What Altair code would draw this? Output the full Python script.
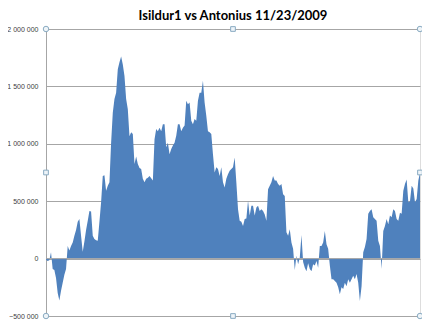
import altair as alt
import pandas as pd

title_text = "Isildur1 vs Antonius 11/23/2009"
y_ticks = [-500000, 0, 500000, 1000000, 1500000, 2000000]

# chip count (thousands), left to right
seg_a = [-10, -20, -15, 55, -90, -100, -170, -300, -365, -280, -210, -140, -90, 110, 70, 110,
         140, 200, 250, 320, 345, 200, 60, 150, 250, 330, 415, 410, 200, 170, 160, 155]
seg_b = [320, 490, 720, 725, 590, 635, 665, 1010, 1270, 1390, 1445, 1650, 1710, 1760, 1690, 1590,
         1390, 1300, 1065, 1100, 1085, 825, 890, 825, 790, 780, 695, 665, 695, 705, 720, 700, 680]
seg_c = [1040, 1130, 1110, 1140, 1110, 1170, 1170, 970, 1010, 910, 955, 985, 1010, 1070, 1170,
         1170, 1110, 1140, 1160, 1375, 1345, 1360, 1200, 1170, 1215, 1200, 1375, 1445]
seg_d = [1445, 1550, 1360, 1245, 1110, 1100, 1085, 910, 750, 795, 780, 720, 795, 665, 620, 695,
         735, 765, 780, 795, 880, 665, 430, 330, 320, 285, 345, 350, 505, 375, 460]
seg_e = [460, 375, 445, 460, 415, 430, 415, 385, 330, 605, 635, 665, 720, 680, 680, 650, 635,
         650, 560, 545, 230, 200, 255, 140, 85, -100, 25, -50, 10, 205, -30]
seg_f = [-80, -110, -40, -90, -110, -50, -60, -20, -80, 110, 110, 140, 240, 125, 85, -60, -180,
         -180, -195, -210, -250, -310, -250, -265, -210, -240, -180, -210, -180, -150, -180]
seg_g = [-135, -210, -370, -240, 55, 100, 170, 390, 415, 430, 360, 345, 330, 155, 110, -90, 240,
         285, 345, 300, 375, 360, 430, 415, 345, 330, 400, 390, 590, 650, 690, 490, 500, 635,
         610, 490, 520, 680, 750]

values_k = seg_a + seg_b + seg_c + seg_d + seg_e + seg_f + seg_g
n = len(values_k)
df = pd.DataFrame({"hand": list(range(n)), "chips": [v * 1000 for v in values_k]})

y_min, y_max = y_ticks[0], y_ticks[-1]
handles = pd.DataFrame({
    "hand": [0, (n - 1) / 2, n - 1, 0, n - 1, 0, (n - 1) / 2, n - 1],
    "chips": [y_max, y_max, y_max, (y_min + y_max) / 2, (y_min + y_max) / 2, y_min, y_min, y_min],
    "kind": ["circle", "square", "circle", "square", "square", "circle", "square", "circle"],
})

x_scale = alt.Scale(domain=[0, n - 1], nice=False, zero=False)
y_scale = alt.Scale(domain=[y_min, y_max], nice=False)
grid_col = "#a6a6a6"

area = alt.Chart(df).mark_area(color="#4F81BD", opacity=1, interpolate="linear").encode(
    x=alt.X("hand:Q", scale=x_scale, axis=None),
    y=alt.Y("chips:Q", scale=y_scale, stack=None,
            axis=alt.Axis(values=y_ticks, title=None, grid=True, gridColor=grid_col,
                          domainColor=grid_col, ticks=False, labelFontSize=7,
                          labelFont="Liberation Sans", labelColor="#404040", labelPadding=8,
                          labelExpr="replace(format(datum.value, ','), regexp(',', 'g'), ' ')")),
)

zero_rule = alt.Chart(pd.DataFrame({"chips": [0]})).mark_rule(color=grid_col, strokeWidth=1).encode(
    y=alt.Y("chips:Q", scale=y_scale)
)

handle_pts = alt.Chart(handles).mark_point(filled=True, fill="#eef4f8", stroke="#8aabc2",
                                           strokeWidth=1, opacity=1).encode(
    x=alt.X("hand:Q", scale=x_scale),
    y=alt.Y("chips:Q", scale=y_scale),
    shape=alt.Shape("kind:N", scale=alt.Scale(domain=["circle", "square"],
                                              range=["circle", "square"]), legend=None),
    size=alt.Size("kind:N", scale=alt.Scale(domain=["circle", "square"], range=[30, 22]),
                  legend=None),
)

chart = alt.layer(area, zero_rule, handle_pts).properties(
    width=374, height=287,
    padding={"left": 38, "top": 21, "right": 2, "bottom": 4},
    autosize="none",
    title=alt.TitleParams(title_text, font="Lato", fontSize=13, fontWeight="bold",
                          color="#000000", anchor="middle", offset=0, dy=-1),
).configure_view(stroke=grid_col, strokeWidth=1).configure(background="white")

chart.save("out.html", embed_options={"renderer": "svg", "actions": False})
